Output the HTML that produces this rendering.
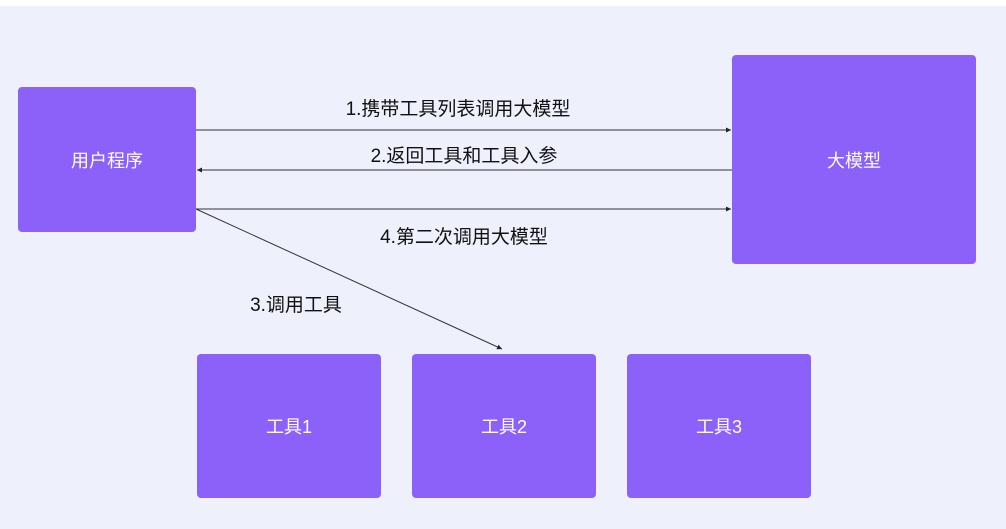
<!DOCTYPE html>
<html><head><meta charset="utf-8"><style>
body{margin:0;width:1006px;height:529px;background:#fff;position:relative;overflow:hidden;font-family:"Liberation Sans","Noto Sans CJK SC",sans-serif}
.bg{position:absolute;left:0;top:6px;width:1006px;height:523px;background:#eef0fc}
.b{position:absolute;background:#8c61fa;border-radius:4px;color:#fff;font-size:18px;display:flex;align-items:center;justify-content:center}
.t{position:absolute;font-size:19px;line-height:22px;color:#111;white-space:nowrap;transform:translateX(-50%)}
</style></head><body>
<div class="bg"></div>
<svg style="position:absolute;left:0;top:0" width="1006" height="529">
<defs><marker id="a" markerWidth="6" markerHeight="6" refX="5" refY="3" orient="auto"><path d="M0,0.5 L5,3 L0,5.5z" fill="#222"/></marker></defs>
<g stroke="#333" stroke-width="1">
<line x1="196" y1="130" x2="731" y2="130" marker-end="url(#a)"/>
<line x1="732" y1="170" x2="197" y2="170" marker-end="url(#a)"/>
<line x1="196" y1="209" x2="731" y2="209" marker-end="url(#a)"/>
<line x1="196" y1="209" x2="502" y2="349" marker-end="url(#a)"/>
</g></svg>
<div class="b" style="left:18px;top:87px;width:178px;height:145px">用户程序</div>
<div class="b" style="left:732px;top:55px;width:244px;height:209px">大模型</div>
<div class="b" style="left:197px;top:354px;width:184px;height:144px">工具1</div>
<div class="b" style="left:412px;top:354px;width:184px;height:144px">工具2</div>
<div class="b" style="left:627px;top:354px;width:184px;height:144px">工具3</div>
<div class="t" style="left:458px;top:99px">1.携带工具列表调用大模型</div>
<div class="t" style="left:464px;top:146px">2.返回工具和工具入参</div>
<div class="t" style="left:464px;top:227px">4.第二次调用大模型</div>
<div class="t" style="left:296px;top:295px">3.调用工具</div>
</body></html>
